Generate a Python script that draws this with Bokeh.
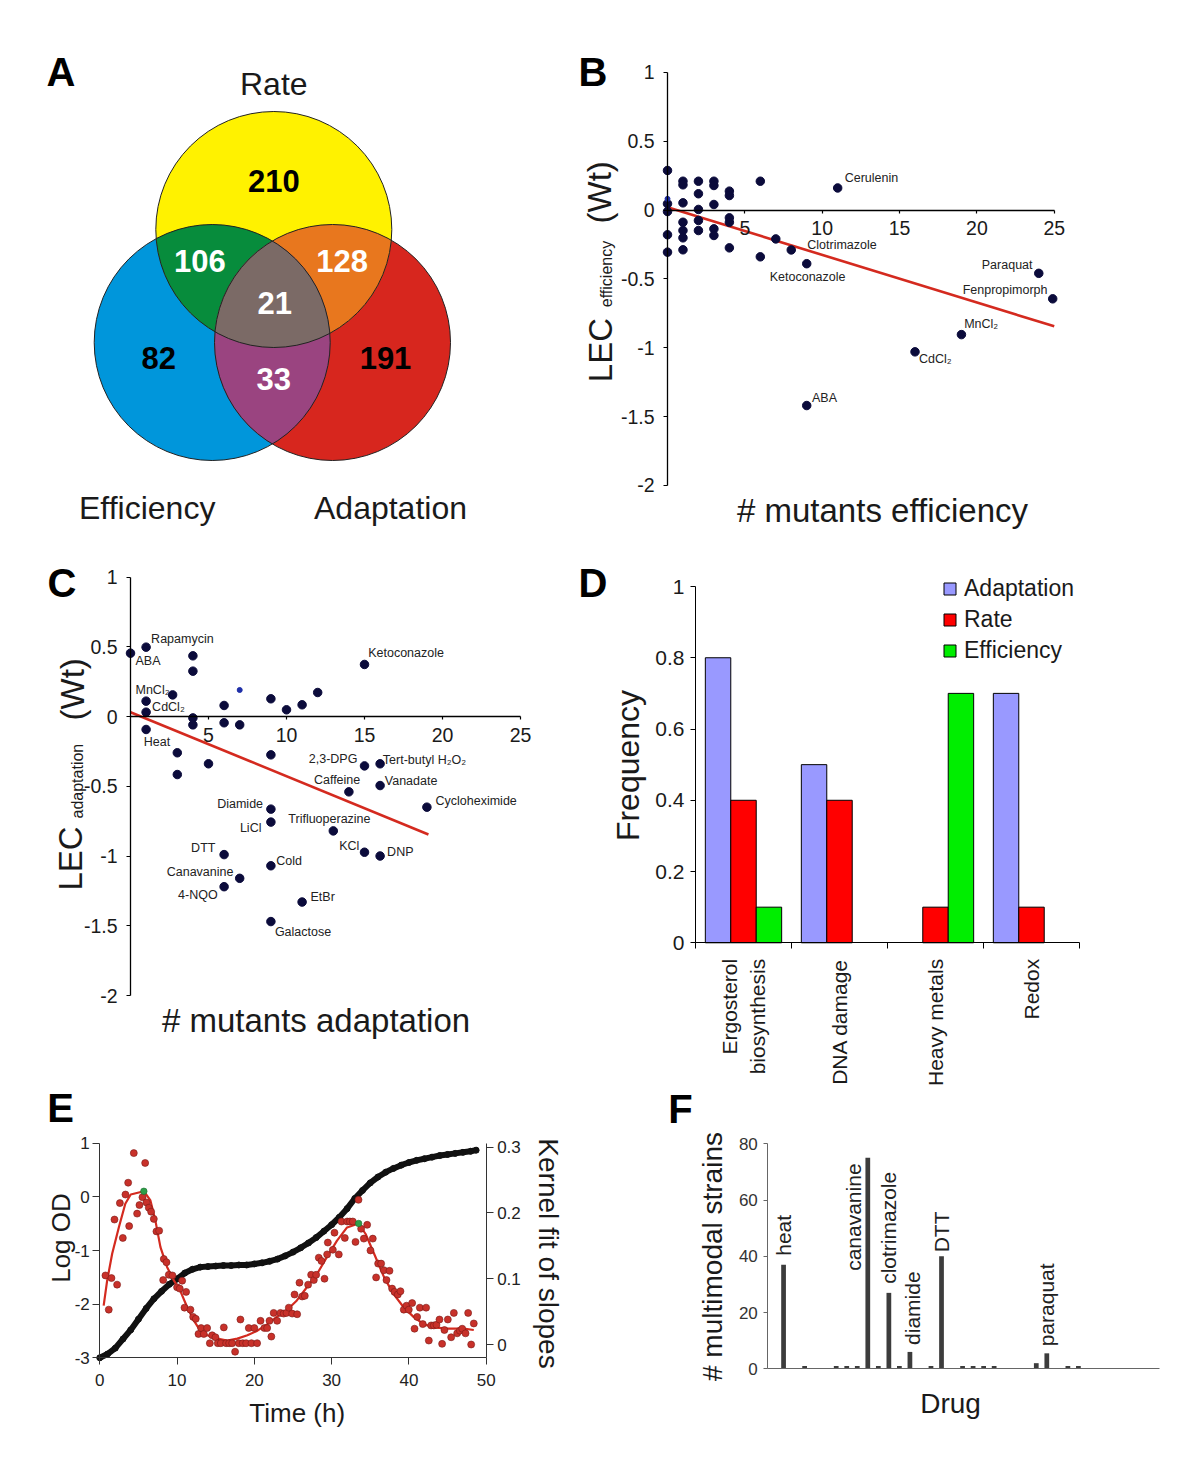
import numpy as np
from bokeh.plotting import figure
from bokeh.layouts import row, column
from bokeh.models import Range1d, LinearAxis, FixedTicker, Label, Legend, LegendItem, ColumnDataSource
from bokeh.core.properties import value
from bokeh.embed import file_html
from bokeh.resources import INLINE

FONT = "Liberation Sans"
TXT = "#1a1a1a"

# ============================ DATA ============================
# Panel A - Venn diagram
venn_set_names = ["Rate", "Efficiency", "Adaptation"]
venn_region_names = ["Rate only", "Efficiency only", "Adaptation only",
                     "Rate & Efficiency", "Rate & Adaptation", "Efficiency & Adaptation", "All three"]
venn_region_counts = [210, 82, 191, 106, 128, 33, 21]

# Panel B - LEC efficiency vs # mutants efficiency
b_named = ["Cerulenin", "Clotrimazole", "Ketoconazole", "Paraquat", "Fenpropimorph", "MnCl₂", "CdCl₂", "ABA"]
b_named_x = [11, 8, 9, 24, 24.9, 19, 16, 9]
b_named_y = [0.16, -0.29, -0.39, -0.46, -0.645, -0.905, -1.03, -1.42]
b_other_x = [0, 0, 0, 0, 0, 1, 1, 1, 1, 1, 1, 1, 2, 2, 2, 2, 2, 3, 3, 3, 3, 3, 4, 4, 4, 4, 4, 6, 6, 7]
b_other_y = [0.287, 0.045, -0.011, -0.18, -0.306, 0.209, 0.183, 0.052, -0.089, -0.149, -0.202, -0.289,
             0.209, 0.118, 0.004, -0.076, -0.149, 0.209, 0.178, 0.04, -0.137, -0.185,
             0.137, 0.105, -0.057, -0.089, -0.275, 0.209, -0.34, -0.21]
b_minor_x = [0]
b_minor_y = [0.081]
b_fit_x = [0, 25]
b_fit_y = [0.02, -0.845]

# Panel C - LEC adaptation vs # mutants adaptation
c_named = ["ABA", "Rapamycin", "MnCl₂", "CdCl₂", "Heat", "Ketoconazole", "2,3-DPG", "Tert-butyl H₂O₂",
           "Caffeine", "Vanadate", "Cycloheximide", "Diamide", "Trifluoperazine", "LiCl", "KCl", "DNP",
           "DTT", "Cold", "Canavanine", "4-NQO", "EtBr", "Galactose"]
c_named_x = [0, 1, 1, 1, 1, 15, 15, 16, 14, 16, 19, 9, 13, 9, 15, 16, 6, 9, 7, 6, 11, 9]
c_named_y = [0.454, 0.497, 0.11, 0.031, -0.093, 0.373, -0.354, -0.339, -0.54, -0.495, -0.65, -0.664,
             -0.82, -0.757, -0.973, -1.0, -0.99, -1.07, -1.16, -1.22, -1.33, -1.47]
c_other_x = [4, 4, 2.7, 4, 4, 6, 6, 7, 9, 10, 11, 12, 3, 3, 5, 9]
c_other_y = [0.435, 0.325, 0.155, -0.01, -0.06, 0.079, -0.045, -0.06, 0.127, 0.048, 0.084, 0.172,
             -0.26, -0.416, -0.339, -0.275]
c_minor_x = [7]
c_minor_y = [0.19]
c_fit_x = [0, 19.1]
c_fit_y = [0.031, -0.846]

# Panel D - frequency per drug class
d_categories = ["Ergosterol\nbiosynthesis", "DNA damage", "Heavy metals", "Redox"]
d_series = ["Adaptation", "Rate", "Efficiency"]
d_adaptation = [0.8, 0.5, 0.0, 0.7]
d_rate = [0.4, 0.4, 0.1, 0.1]
d_efficiency = [0.1, 0.0, 0.7, 0.0]

# Panel E - growth curve and slopes
e_od_t = [0, 1, 2, 3, 4, 5, 6, 7, 8, 9, 10, 11, 12, 13, 14, 15, 16, 17, 18, 19, 20, 21, 22, 23, 24,
          25, 26, 27, 28, 29, 30, 31, 32, 33, 34, 35, 36, 37, 38, 39, 40, 41, 42, 43, 44, 45, 46, 47, 48, 48.7]
e_od_log = [-3.0, -2.93, -2.82, -2.65, -2.48, -2.28, -2.08, -1.9, -1.76, -1.63, -1.53, -1.42, -1.35, -1.31,
            -1.3, -1.29, -1.28, -1.28, -1.27, -1.27, -1.25, -1.23, -1.2, -1.16, -1.1, -1.03, -0.95, -0.86,
            -0.76, -0.64, -0.52, -0.38, -0.22, -0.03, 0.12, 0.26, 0.37, 0.46, 0.53, 0.59, 0.64, 0.68, 0.71,
            0.74, 0.77, 0.79, 0.81, 0.83, 0.85, 0.87]
e_slope_t = [0.73, 1.16, 1.51, 1.9, 2.24, 2.6, 2.98, 3.32, 3.67, 3.8, 4.4, 4.83, 5.13, 5.52, 5.87, 6.04,
             6.34, 6.64, 6.99, 7.33, 7.68, 8.2, 8.28, 8.63, 8.93, 9.4, 10.0, 10.35, 10.66, 10.96, 11.17,
             11.73, 12.08, 12.42, 12.77, 13.11, 13.46, 13.89, 14.24, 14.54, 14.97, 15.27, 15.66, 16.05,
             16.35, 16.74, 17.13, 17.51, 17.99, 18.2, 18.5, 18.94, 19.28, 19.63, 20.0, 20.36, 20.8, 21.3,
             21.66, 21.96, 22.2, 22.5, 22.95, 23.38, 23.8, 24.16, 24.46, 24.9, 25.2, 25.54, 25.84, 26.19,
             26.53, 26.96, 27.35, 27.7, 28.0, 28.34, 28.69, 29.08, 29.42, 29.51, 30.16, 30.37, 30.93,
             31.28, 31.71, 32.01, 32.36, 32.74, 33.09, 33.48, 33.82, 34.17, 34.6, 35.03, 35.33, 35.76,
             36.02, 36.41, 36.76, 37.1, 37.49, 37.83, 38.14, 38.57, 38.91, 39.34, 39.69, 39.99, 40.42,
             40.73, 41.07, 41.42, 41.8, 42.23, 42.58, 42.88, 43.23, 43.57, 43.96, 44.3, 44.6, 45.04,
             45.47, 45.82, 46.25, 46.6, 46.9, 47.33, 47.67, 48.06, 48.4]
e_slope_v = [0.105, 0.053, 0.101, 0.19, 0.091, 0.215, 0.162, 0.228, 0.246, 0.18, 0.291, 0.199, 0.212,
             0.224, 0.276, 0.216, 0.208, 0.202, 0.191, 0.172, 0.173, 0.098, 0.13, 0.125, 0.106, 0.105,
             0.087, 0.085, 0.097, 0.056, 0.08, 0.053, 0.042, 0.039, 0.016, 0.025, 0.016, 0.025, 0.002,
             0.014, 0.011, 0.002, 0.002, 0.026, 0.002, 0.002, 0.002, -0.011, 0.002, 0.038, 0.002, 0.002,
             0.025, 0.002, 0.025, 0.002, 0.036, 0.025, 0.025, 0.036, 0.012, 0.048, 0.036, 0.048, 0.047,
             0.048, 0.056, 0.047, 0.076, 0.046, 0.094, 0.073, 0.074, 0.091, 0.106, 0.098, 0.106, 0.132,
             0.127, 0.1, 0.137, 0.155, 0.144, 0.17, 0.137, 0.187, 0.162, 0.187, 0.187, 0.187, 0.156, 0.22,
             0.176, 0.161, 0.182, 0.143, 0.161, 0.102, 0.123, 0.123, 0.113, 0.098, 0.112, 0.085, 0.08,
             0.076, 0.081, 0.053, 0.059, 0.053, 0.063, 0.024, 0.042, 0.056, 0.031, 0.056, 0.006, 0.029,
             0.029, 0.03, 0.038, 0.001, 0.022, 0.038, 0.011, 0.048, 0.017, 0.021, 0.024, 0.017, 0.048,
             0.0, 0.032]
e_fit_t = [0.5, 0.95, 1.6, 2.46, 3.3, 4.0, 5.7, 6.55, 7.2, 7.85, 8.7, 9.6, 10.4, 11.3, 12.2, 13.0, 13.9,
           15.2, 16.5, 17.8, 19.1, 20.4, 21.7, 22.9, 24.2, 25.5, 26.8, 28.1, 29.4, 30.7, 32.0, 33.5, 34.4,
           35.5, 36.8, 38.0, 39.3, 40.6, 41.9, 43.2, 45.0, 47.1, 48.4]
e_fit_v = [0.059, 0.097, 0.138, 0.178, 0.214, 0.228, 0.233, 0.219, 0.188, 0.148, 0.118, 0.097, 0.082,
           0.057, 0.036, 0.021, 0.014, 0.009, 0.006, 0.009, 0.014, 0.021, 0.031, 0.042, 0.052, 0.067,
           0.087, 0.107, 0.133, 0.158, 0.178, 0.184, 0.168, 0.138, 0.102, 0.077, 0.057, 0.042, 0.031,
           0.026, 0.024, 0.024, 0.022]
e_peak_t = [5.7, 33.5]
e_peak_v = [0.233, 0.184]

# Panel F - multimodal strains per drug
f_drug_index = list(range(1, 38))
f_counts = [0, 37, 0, 1, 0, 0, 1, 1, 1, 75, 1, 27, 1, 6, 0, 1, 40, 0, 1, 1, 1, 1, 0, 0, 0, 2, 5.5, 0, 1, 1,
            0, 0, 0, 0, 0, 0, 0]
f_label_index = [2, 10, 12, 14, 17, 27]
f_label_names = ["heat", "canavanine", "clotrimazole", "diamide", "DTT", "paraquat"]

assert len(e_slope_t) == len(e_slope_v) and len(e_fit_t) == len(e_fit_v) and len(e_od_t) == len(e_od_log)

# ============================ STYLE / LAYOUT ============================
B_OFF = {"Cerulenin": (7, -10), "Clotrimazole": (16, -5), "Ketoconazole": (-37, 13.5), "Paraquat": (-57, -8),
         "Fenpropimorph": (-90, -9.3), "MnCl₂": (2.7, -11), "CdCl₂": (4, 7.3), "ABA": (5.3, -7.7)}
C_OFF = {"ABA": (5, 8.3), "Rapamycin": (5, -7.7), "MnCl₂": (-10.6, -10.7), "CdCl₂": (6, -5),
         "Heat": (-2.3, 12.7), "Ketoconazole": (3.7, -11.7), "2,3-DPG": (-55.7, -7),
         "Tert-butyl H₂O₂": (2.7, -4), "Caffeine": (-35, -12), "Vanadate": (4.7, -5),
         "Cycloheximide": (8.6, -6), "Diamide": (-53.7, -5.3), "Trifluoperazine": (-45, -12),
         "LiCl": (-31, 5.7), "KCl": (-25.3, -6.7), "DNP": (7, -4), "DTT": (-33, -6.4), "Cold": (5.3, -4.6),
         "Canavanine": (-73, -6), "4-NQO": (-46, 8.8), "EtBr": (8.4, -4.8), "Galactose": (4, 10)}
F_OFF = {"heat": (0, -9), "canavanine": (-14.6, 113), "clotrimazole": (0, -9), "diamide": (3, -7),
         "DTT": (0, -4), "paraquat": (0, -7)}

PT_COLOR = "#0b0b3b"
FIT_COLOR = "#d42a1f"

# canvas placement (page pixels): left column / right column
COL_L_W, COL_R_W = 568, 628
A_H, C_H, E_H = 548, 530, 384
B_H, D_H, F_H = 548, 539, 375


class Px:
    """Maps page pixel positions of the layout to a panel's data space."""

    def __init__(self, x0, xppu, y0, yppu):
        self.x0, self.xppu, self.y0, self.yppu = x0, xppu, y0, yppu

    def x(self, px):
        return (px - self.x0) / self.xppu

    def y(self, py):
        return (self.y0 - py) / self.yppu

    def ranges(self, left, width, top, height):
        xs = self.x(left)
        yt = self.y(top)
        return Range1d(xs, xs + width / self.xppu), Range1d(yt - height / self.yppu, yt)


def base_fig(P, left, width, top, height):
    xr, yr = P.ranges(left, width, top, height)
    p = figure(width=width, height=height, x_range=xr, y_range=yr, output_backend="svg",
               toolbar_location=None, min_border=0, min_border_left=0, min_border_right=0,
               min_border_top=0, min_border_bottom=0)
    p.xgrid.visible = False
    p.ygrid.visible = False
    p.outline_line_color = None
    p.background_fill_color = "white"
    p.border_fill_color = "white"
    return p


def style_axis(ax, size="19px", color=TXT, line="black"):
    ax.major_label_text_font = FONT
    ax.major_label_text_font_size = size
    ax.major_label_text_color = color
    ax.minor_tick_line_color = None
    ax.axis_line_color = line
    ax.major_tick_line_color = line
    ax.major_tick_in = 0


def letter(p, P, px, py, t):
    p.add_layout(Label(x=P.x(px), y=P.y(py), text=t, text_font=FONT, text_font_style="bold",
                       text_font_size="40px", text_align="center", text_baseline="middle", text_color="black"))


def lab(p, P, px, py, t, size, angle=0.0, align="center", baseline="middle"):
    p.add_layout(Label(x=P.x(px), y=P.y(py), text=t, text_font=FONT, text_font_size=size, angle=angle,
                       text_align=align, text_baseline=baseline, text_color=TXT))


# ============================ PANEL A ============================
pA = figure(width=COL_L_W, height=A_H, x_range=Range1d(0, COL_L_W), y_range=Range1d(A_H, 0),
            x_axis_location=None, y_axis_location=None, min_border=0, output_backend="svg",
            toolbar_location=None)
pA.xgrid.visible = False
pA.ygrid.visible = False
pA.outline_line_color = None
VENN_C = {"Rate": (273.3, 229.0), "Efficiency": (211.7, 342.0), "Adaptation": (332.0, 342.0)}
VENN_R = 118.0
SET_COL = {"Rate": "#fff200", "Efficiency": "#0096db", "Adaptation": "#d7261e"}
OVER_COL = {("Rate", "Efficiency"): "#078c3c", ("Rate", "Adaptation"): "#e8771e",
            ("Efficiency", "Adaptation"): "#9a4480", ("Rate", "Efficiency", "Adaptation"): "#7b6a66"}


def inter_poly(names):
    pts = []
    th = np.linspace(0, 2 * np.pi, 1441)
    for n in names:
        cx, cy = VENN_C[n]
        px, py = cx + VENN_R * np.cos(th), cy + VENN_R * np.sin(th)
        ok = np.ones_like(px, dtype=bool)
        for m in names:
            if m != n:
                mx, my = VENN_C[m]
                ok &= (px - mx) ** 2 + (py - my) ** 2 <= VENN_R ** 2 + 1e-6
        pts.append(np.c_[px[ok], py[ok]])
    P = np.vstack(pts)
    c = P.mean(axis=0)
    o = np.argsort(np.arctan2(P[:, 1] - c[1], P[:, 0] - c[0]))
    return P[o, 0], P[o, 1]


for n in ["Efficiency", "Adaptation", "Rate"]:
    pA.circle(x=[VENN_C[n][0]], y=[VENN_C[n][1]], radius=VENN_R, fill_color=SET_COL[n], line_color=None)
for key, col in OVER_COL.items():
    xs, ys = inter_poly(key)
    pA.patch(xs, ys, fill_color=col, line_color=None)
for n in venn_set_names:
    pA.circle(x=[VENN_C[n][0]], y=[VENN_C[n][1]], radius=VENN_R, fill_color=None,
              line_color="#222222", line_width=1)

VENN_LAB_POS = {"Rate only": (273.3, 180), "Efficiency only": (158.3, 357), "Adaptation only": (385, 357),
                "Rate & Efficiency": (199.3, 260), "Rate & Adaptation": (341.7, 260),
                "Efficiency & Adaptation": (273.3, 378.5), "All three": (274.3, 302)}
vsrc = ColumnDataSource(dict(
    x=[VENN_LAB_POS[r][0] for r in venn_region_names],
    y=[VENN_LAB_POS[r][1] for r in venn_region_names],
    t=[str(v) for v in venn_region_counts],
    c=["black" if i < 3 else "white" for i in range(len(venn_region_names))]))
pA.text(x="x", y="y", text="t", source=vsrc, text_color="c", text_font=value(FONT),
        text_font_style="bold", text_font_size="31px", text_align="center", text_baseline="middle")
SET_LAB_POS = {"Rate": (273.3, 83.5), "Efficiency": (146.7, 507), "Adaptation": (390, 507)}
pA.text(x=[SET_LAB_POS[n][0] for n in venn_set_names], y=[SET_LAB_POS[n][1] for n in venn_set_names],
        text=venn_set_names, text_color=TXT, text_font=value(FONT), text_font_size="32px",
        text_align="center", text_baseline="middle")
pA.add_layout(Label(x=60.5, y=71, text="A", text_font=FONT, text_font_style="bold", text_font_size="40px",
                    text_align="center", text_baseline="middle", text_color="black"))


# ============================ PANELS B & C ============================
def scatter_panel(p, named, nx, ny, ox, oy, mx, my, fx, fy, offs):
    p.line(fx, fy, line_color=FIT_COLOR, line_width=2.6)
    p.scatter(ox, oy, size=8.5, fill_color=PT_COLOR, line_color=PT_COLOR)
    p.scatter(nx, ny, size=8.5, fill_color=PT_COLOR, line_color=PT_COLOR)
    p.scatter(mx, my, size=5, fill_color="#1f2fa8", line_color="#1f2fa8")
    src = ColumnDataSource(dict(x=nx, y=ny, t=named, dx=[offs[n][0] for n in named],
                                dy=[offs[n][1] for n in named]))
    p.text(x="x", y="y", text="t", x_offset="dx", y_offset="dy", source=src, text_font=value(FONT),
           text_font_size="12.5px", text_color="#222222", text_align="left", text_baseline="middle")
    xa, ya = p.xaxis[0], p.yaxis[0]
    for ax in (xa, ya):
        style_axis(ax, "19.5px")
        ax.axis_line_width = 1.3
        ax.major_tick_line_width = 1.2
    xa.fixed_location = 0
    ya.fixed_location = 0
    xa.bounds = (0, 25)
    ya.bounds = (-2, 1)
    xa.ticker = FixedTicker(ticks=[5, 10, 15, 20, 25])
    ya.ticker = FixedTicker(ticks=[-2, -1.5, -1, -0.5, 0, 0.5, 1])
    ya.major_label_overrides = {-2: "-2", -1.5: "-1.5", -1: "-1", -0.5: "-0.5", 0: "0", 0.5: "0.5", 1: "1"}
    xa.major_tick_out = 3
    xa.major_label_standoff = 8
    ya.major_tick_out = 4
    ya.major_label_standoff = 9


PB = Px(667, 15.47, 209.5, 137.7)
pB = base_fig(PB, COL_L_W, COL_R_W, 0, B_H)
scatter_panel(pB, b_named, b_named_x, b_named_y, b_other_x, b_other_y, b_minor_x, b_minor_y,
              b_fit_x, b_fit_y, B_OFF)
lab(pB, PB, 882, 510, "# mutants efficiency", "33px")
lab(pB, PB, 600, 381.7, "LEC", "33px", angle=np.pi / 2, align="left", baseline="alphabetic")
lab(pB, PB, 606, 306.7, "efficiency", "16px", angle=np.pi / 2, align="left", baseline="alphabetic")
lab(pB, PB, 599, 223, "(Wt)", "33px", angle=np.pi / 2, align="left", baseline="alphabetic")
letter(pB, PB, 592.5, 71, "B")

PC = Px(130, 15.6, 716, 139.5)
pC = base_fig(PC, 0, COL_L_W, A_H, C_H)
scatter_panel(pC, c_named, c_named_x, c_named_y, c_other_x, c_other_y, c_minor_x, c_minor_y,
              c_fit_x, c_fit_y, C_OFF)
lab(pC, PC, 315.5, 1020, "# mutants adaptation", "33px")
lab(pC, PC, 70, 890, "LEC", "33px", angle=np.pi / 2, align="left", baseline="alphabetic")
lab(pC, PC, 77, 818, "adaptation", "16px", angle=np.pi / 2, align="left", baseline="alphabetic")
lab(pC, PC, 72, 720, "(Wt)", "33px", angle=np.pi / 2, align="left", baseline="alphabetic")
letter(pC, PC, 61.5, 582, "C")

# ============================ PANEL D ============================
PD = Px(695, 96.0, 942.3, 356.3)
pD = base_fig(PD, COL_L_W, COL_R_W, B_H, D_H)
BW = 0.265
centers = np.arange(len(d_categories)) + 0.5
D_COL = {"Adaptation": "#9999ff", "Rate": "#ff0000", "Efficiency": "#00ee00"}
rend = {}
for k, (name, vals) in enumerate(zip(d_series, [d_adaptation, d_rate, d_efficiency])):
    xs = centers + (k - 1) * BW
    keep = [i for i, v in enumerate(vals) if v > 0]
    rend[name] = pD.vbar(x=[xs[i] for i in keep], top=[vals[i] for i in keep], width=BW,
                         fill_color=D_COL[name], line_color="black", line_width=1)
legend = Legend(items=[LegendItem(label=n, renderers=[rend[n]]) for n in d_series],
                location=(942 - COL_L_W, B_H + D_H - 664), label_text_font=FONT,
                label_text_font_size="23px", label_text_color=TXT, glyph_width=15, glyph_height=15,
                label_standoff=7, spacing=4, padding=0, margin=0, border_line_color=None,
                background_fill_alpha=0)
pD.add_layout(legend)
xa, ya = pD.xaxis[0], pD.yaxis[0]
style_axis(xa, "21px")
style_axis(ya, "21px")
xa.fixed_location = 0
ya.fixed_location = 0
xa.bounds = (0, 4)
ya.bounds = (0, 1)
xa.ticker = FixedTicker(ticks=list(centers), minor_ticks=[0, 1, 2, 3, 4])
xa.major_label_overrides = {float(c): lbl for c, lbl in zip(centers, d_categories)}
xa.major_label_orientation = np.pi / 2
xa.major_tick_line_color = None
xa.major_tick_out = 6
xa.major_label_standoff = 10
xa.minor_tick_line_color = "black"
xa.minor_tick_out = 6
xa.minor_tick_in = 0
ya.ticker = FixedTicker(ticks=[0, 0.2, 0.4, 0.6, 0.8, 1])
ya.major_label_overrides = {0: "0", 0.2: "0.2", 0.4: "0.4", 0.6: "0.6", 0.8: "0.8", 1: "1"}
ya.major_tick_out = 5
ya.major_label_standoff = 6
lab(pD, PD, 627, 765, "Frequency", "32px", angle=np.pi / 2)
letter(pD, PD, 592.5, 582, "D")

# ============================ PANEL E ============================
E_TOP = A_H + C_H
PE = Px(99.3, 7.727, 1196.35, 53.65)
pE = base_fig(PE, 0, COL_L_W, E_TOP, E_H)
PEk = Px(99.3, 7.727, 1344.0, 657.7)
_, kr = PEk.ranges(0, COL_L_W, E_TOP, E_H)
pE.extra_y_ranges = {"k": kr}
rax = LinearAxis(y_range_name="k")
pE.add_layout(rax, "right")
pE.line(e_od_t, e_od_log, line_color="#111111", line_width=6, line_cap="round")
pE.scatter(e_od_t, e_od_log, size=6, fill_color="#111111", line_color="#111111")
pE.line(e_fit_t, e_fit_v, y_range_name="k", line_color=FIT_COLOR, line_width=2.2)
pE.scatter(e_slope_t, e_slope_v, y_range_name="k", size=7, fill_color="#c8312a", line_color="#7a1a16",
           line_width=0.6)
pE.scatter(e_peak_t, e_peak_v, y_range_name="k", size=6.5, fill_color="#2e9e48", line_color="#1d6e30",
           line_width=0.6)
xa, ya = pE.xaxis[0], pE.yaxis[0]
for ax in (xa, ya, rax):
    style_axis(ax, "17px", "#222222", "#333333")
    ax.major_tick_out = 7
xa.fixed_location = -3
ya.fixed_location = 0
rax.fixed_location = 50
xa.bounds = (0, 50)
ya.bounds = (-3, 1)
rax.bounds = (PEk.y(PE.y(-3) * 0 + 1357.3), PEk.y(1142.7))
xa.ticker = FixedTicker(ticks=[0, 10, 20, 30, 40, 50])
xa.major_label_standoff = 9
ya.ticker = FixedTicker(ticks=[-3, -2, -1, 0, 1])
ya.major_label_overrides = {-3: "-3", -2: "-2", -1: "-1", 0: "0", 1: "1"}
ya.major_label_standoff = 3
rax.ticker = FixedTicker(ticks=[0, 0.1, 0.2, 0.3])
rax.major_label_overrides = {0: "0", 0.1: "0.1", 0.2: "0.2", 0.3: "0.3"}
rax.major_label_standoff = 4
lab(pE, PE, 296.7, 1412, "Time (h)", "26px")
lab(pE, PE, 60, 1237.5, "Log OD", "26px", angle=np.pi / 2)
lab(pE, PE, 548, 1253, "Kernel fit of slopes", "28px", angle=-np.pi / 2)
letter(pE, PE, 60, 1107, "E")

# ============================ PANEL F ============================
F_TOP = B_H + D_H
PF = Px(762.0, 10.53, 1368.3, 2.8125)
pF = base_fig(PF, COL_L_W, COL_R_W, F_TOP, F_H)
pF.vbar(x=f_drug_index, top=f_counts, width=0.45, fill_color="#3c3c3c", line_color=None)
fsrc = ColumnDataSource(dict(x=f_label_index, y=[f_counts[f_drug_index.index(i)] for i in f_label_index],
                             t=f_label_names, dx=[F_OFF[n][0] for n in f_label_names],
                             dy=[F_OFF[n][1] for n in f_label_names]))
pF.text(x="x", y="y", text="t", x_offset="dx", y_offset="dy", source=fsrc, angle=np.pi / 2,
        text_font=value(FONT), text_font_size="21px", text_color="#222222", text_align="left",
        text_baseline="middle")
xa, ya = pF.xaxis[0], pF.yaxis[0]
for ax in (xa, ya):
    style_axis(ax, "17px", "#333333", "#666666")
xa.fixed_location = 0
ya.fixed_location = PF.x(767.3)
xa.bounds = (PF.x(767.3), PF.x(1159))
ya.bounds = (0, 80)
xa.ticker = FixedTicker(ticks=[])
xa.major_tick_out = 0
ya.ticker = FixedTicker(ticks=[0, 20, 40, 60, 80])
ya.major_tick_out = 4
ya.major_label_standoff = 6
lab(pF, PF, 712, 1256, "# multimodal strains", "28px", angle=np.pi / 2)
lab(pF, PF, 950, 1403, "Drug", "28px")
letter(pF, PF, 680, 1108, "F")

layout = row(column(pA, pC, pE), column(pB, pD, pF))
open("out.html", "w").write(file_html(layout, INLINE))
